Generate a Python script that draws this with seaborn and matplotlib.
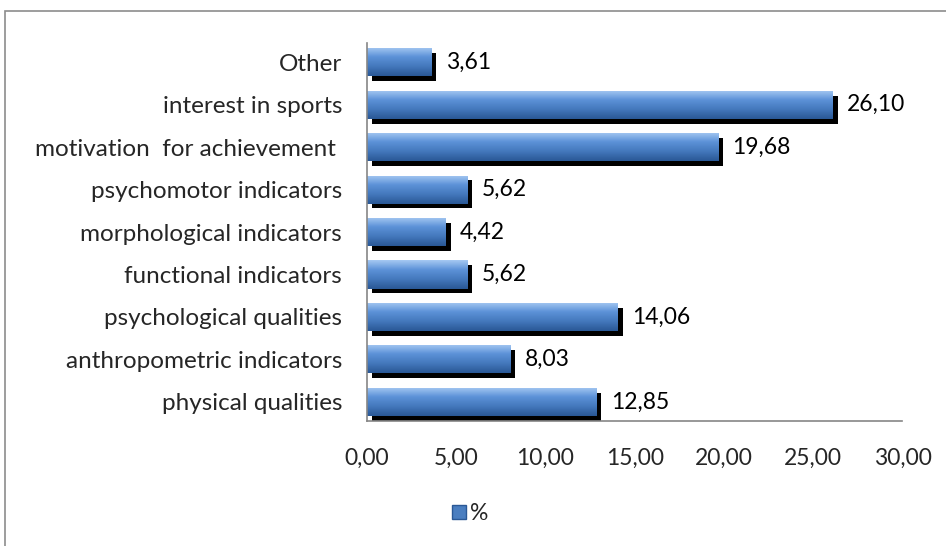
import matplotlib
matplotlib.use("Agg")
import matplotlib.pyplot as plt
import matplotlib.patheffects as pe
from matplotlib.patches import Patch, Rectangle
import numpy as np
import pandas as pd
import seaborn as sns

categories = [
    "Other",
    "interest in sports",
    "motivation  for achievement ",
    "psychomotor indicators",
    "morphological indicators",
    "functional indicators",
    "psychological qualities",
    "anthropometric indicators",
    "physical qualities",
]
values = [3.61, 26.10, 19.68, 5.62, 4.42, 5.62, 14.06, 8.03, 12.85]
xticks = [0, 5, 10, 15, 20, 25, 30]

sns.set_style("white")
plt.rcParams["font.family"] = ["Lato", "DejaVu Sans"]
FS = 16.5

df = pd.DataFrame({"cat": categories, "val": values})

fig = plt.figure(figsize=(9.46, 5.46), dpi=100)
ax = fig.add_axes([0.388, 0.229, 0.566, 0.692])

sns.barplot(df, x="val", y="cat", orient="h", color="#4A7EC0",
            width=0.66, ax=ax, edgecolor="none", linewidth=0)

# gradient fill + black drop shadow on each bar
grad = np.linspace(0, 1, 64).reshape(-1, 1)
cmap = matplotlib.colors.LinearSegmentedColormap.from_list(
    "bar", ["#A5C8F2", "#5C92D8", "#4478BC", "#2A5896"])
for p in ax.patches:
    p.set_path_effects([pe.SimplePatchShadow(offset=(3.5, -3.5), shadow_rgbFace="black", alpha=1.0),
                        pe.Normal()])
    x0, y0, w, h = p.get_x(), p.get_y(), p.get_width(), p.get_height()
    im = ax.imshow(grad, cmap=cmap, aspect="auto", origin="upper",
                   extent=(x0, x0 + w, y0 + h, y0), zorder=p.get_zorder() + 0.1)
    im.set_clip_path(p)

for i, v in enumerate(values):
    ax.text(v + 0.8, i, f"{v:.2f}".replace(".", ","), va="center", ha="left",
            fontsize=FS, color="black")

ax.set_xlim(0, 30)
ax.set_ylim(len(categories) - 0.55, -0.45)
ax.set_xticks(xticks)
ax.set_xticklabels([f"{t:.2f}".replace(".", ",") for t in xticks])
ax.tick_params(axis="x", length=0, pad=19, labelsize=FS)
ax.tick_params(axis="y", length=0, pad=18, labelsize=17.5)
ax.set_xlabel("")
ax.set_ylabel("")
for s in ["top", "right"]:
    ax.spines[s].set_visible(False)
for s in ["left", "bottom"]:
    ax.spines[s].set_color("#868686")
    ax.spines[s].set_linewidth(1.2)

fig.legend(handles=[Patch(facecolor="#4A7EC0", edgecolor="#2A5896")], labels=["%"],
           loc="center", bbox_to_anchor=(0.497, 0.059), frameon=False,
           fontsize=FS, handlelength=0.6, handleheight=0.6, handletextpad=0.2)

# chart border (Excel-like frame cut at right/bottom)
fig.patches.append(Rectangle((5 / 946, -0.1), 1.2, 1 - 11 / 546 + 0.1,
                             transform=fig.transFigure, fill=False,
                             edgecolor="#8C8C8C", linewidth=1.2))

fig.savefig("out.png", dpi=100)
